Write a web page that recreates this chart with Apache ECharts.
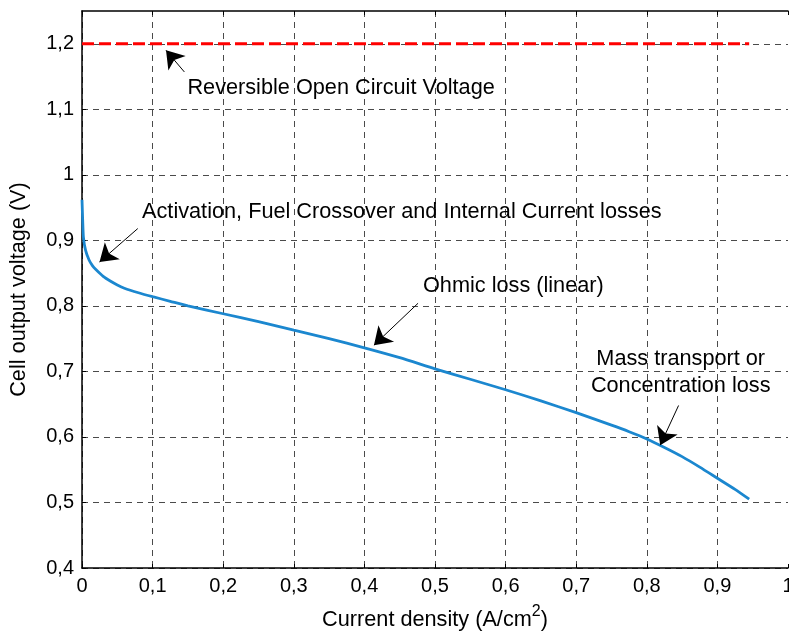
<!DOCTYPE html>
<html>
<head>
<meta charset="utf-8">
<script src="https://cdn.jsdelivr.net/npm/echarts@6/dist/echarts.min.js"></script>
<style>
  html, body { margin: 0; padding: 0; background: #fff; }
  #chart { width: 789px; height: 634px; }
</style>
</head>
<body>
<div id="chart"></div>
<script>
// polarisation curve
const currentDensity = [0, 0.001, 0.002, 0.005, 0.01, 0.015, 0.02, 0.03, 0.04, 0.05, 0.06, 0.08, 0.1,
  0.125, 0.15, 0.2, 0.25, 0.3, 0.35, 0.4, 0.45, 0.5, 0.55, 0.6, 0.65, 0.7, 0.75, 0.775, 0.8, 0.825, 0.85,
  0.875, 0.9, 0.925, 0.945];
const cellVoltage = [0.962, 0.93, 0.905, 0.885, 0.870, 0.861, 0.855, 0.845, 0.838, 0.832, 0.827, 0.820, 0.814,
  0.807, 0.800, 0.788, 0.776, 0.763, 0.750, 0.736, 0.721, 0.704, 0.688, 0.672, 0.655, 0.637, 0.618, 0.608, 0.597, 0.584, 0.570,
  0.554, 0.537, 0.520, 0.505];

// reversible open circuit voltage
const ocvX = [0, 0.945];
const ocvY = [1.2, 1.2];

// annotations: text, where it sits, arrow tail -> tip
const noteTexts = [
  'Reversible Open Circuit Voltage',
  'Activation, Fuel Crossover and Internal Current losses',
  'Ohmic loss (linear)',
  'Mass transport or\nConcentration loss'
];
const notePos = [[0.367, 1.132], [0.453, 0.943], [0.611, 0.831], [0.848, 0.699]];
const arrowTail = [[0.145, 1.157], [0.079, 0.918], [0.476, 0.804], [0.845, 0.648]];
const arrowTip = [[0.119, 1.19], [0.0248, 0.867], [0.4135, 0.740], [0.819, 0.5875]];

const FONT = "'Liberation Sans', Arial, sans-serif";
const comma = v => String(Math.round(v * 100) / 100).replace('.', ',');

const chart = echarts.init(document.getElementById('chart'));

const dashedGrid = { show: true, showMaxLine: false, lineStyle: { color: '#4a4a4a', width: 1, type: [6, 5] } };

chart.setOption({
  animation: false,
  grid: { left: 82, right: 1, top: 11, bottom: 66, outerBoundsMode: 'none' },
  xAxis: [{
    type: 'value', min: 0, max: 1, interval: 0.1,
    name: 'Current density (A/cm{sup|2})',
    nameLocation: 'middle', nameGap: 36,
    nameTextStyle: {
      color: '#000', fontSize: 21.7, fontFamily: FONT,
      rich: { sup: { fontSize: 16, verticalAlign: 'top', padding: [0, 0, 16, 0], fontFamily: FONT, color: '#000' } }
    },
    axisLine: { lineStyle: { color: '#000', width: 1.5 } },
    axisTick: { show: true, inside: true, length: 4, lineStyle: { color: '#000' } },
    axisLabel: { color: '#000', fontSize: 20, fontFamily: FONT, margin: 8, formatter: comma },
    splitLine: dashedGrid
  }, {
    type: 'value', position: 'top', min: 0, max: 1, interval: 0.1,
    axisLine: { show: true, lineStyle: { color: '#000', width: 1.5 } },
    axisTick: { show: true, inside: true, length: 4, lineStyle: { color: '#000' } },
    axisLabel: { show: false },
    splitLine: { show: false }
  }],
  yAxis: {
    type: 'value', min: 0.4, max: 1.25, interval: 0.1,
    name: 'Cell output voltage (V)',
    nameLocation: 'middle', nameGap: 52,
    nameTextStyle: { color: '#000', fontSize: 21.7, fontFamily: FONT },
    axisLine: { show: true, lineStyle: { color: '#000', width: 1.5 } },
    axisTick: { show: true, inside: true, length: 4, lineStyle: { color: '#000' } },
    axisLabel: { color: '#000', fontSize: 20, fontFamily: FONT, margin: 8, showMaxLabel: false, formatter: comma },
    splitLine: dashedGrid
  },
  series: [
    {
      type: 'line',
      data: ocvX.map((x, i) => [x, ocvY[i]]),
      symbol: 'none',
      lineStyle: { color: '#ff0000', width: 3, type: [12, 5] },
      z: 3
    },
    {
      type: 'line',
      data: currentDensity.map((x, i) => [x, cellVoltage[i]]),
      symbol: 'none',
      smooth: 0.2,
      lineStyle: { color: '#1b87cf', width: 2.8 },
      z: 3
    },
    {
      type: 'lines',
      coordinateSystem: 'cartesian2d',
      data: arrowTail.map((t, i) => ({ coords: [t, arrowTip[i]] })),
      symbol: ['none', 'arrow'],
      symbolSize: 17,
      lineStyle: { color: '#000', width: 1, opacity: 1 },
      z: 4
    },
    {
      type: 'scatter',
      data: notePos.map((p, i) => [p[0], p[1], noteTexts[i]]),
      symbolSize: 0,
      silent: true,
      itemStyle: { opacity: 1 },
      label: {
        show: true, position: [0, 0],
        formatter: p => p.data[2],
        color: '#000', fontSize: 21.7, fontFamily: FONT, lineHeight: 27,
        align: 'center', verticalAlign: 'middle'
      },
      z: 5
    }
  ]
});
</script>
</body>
</html>
